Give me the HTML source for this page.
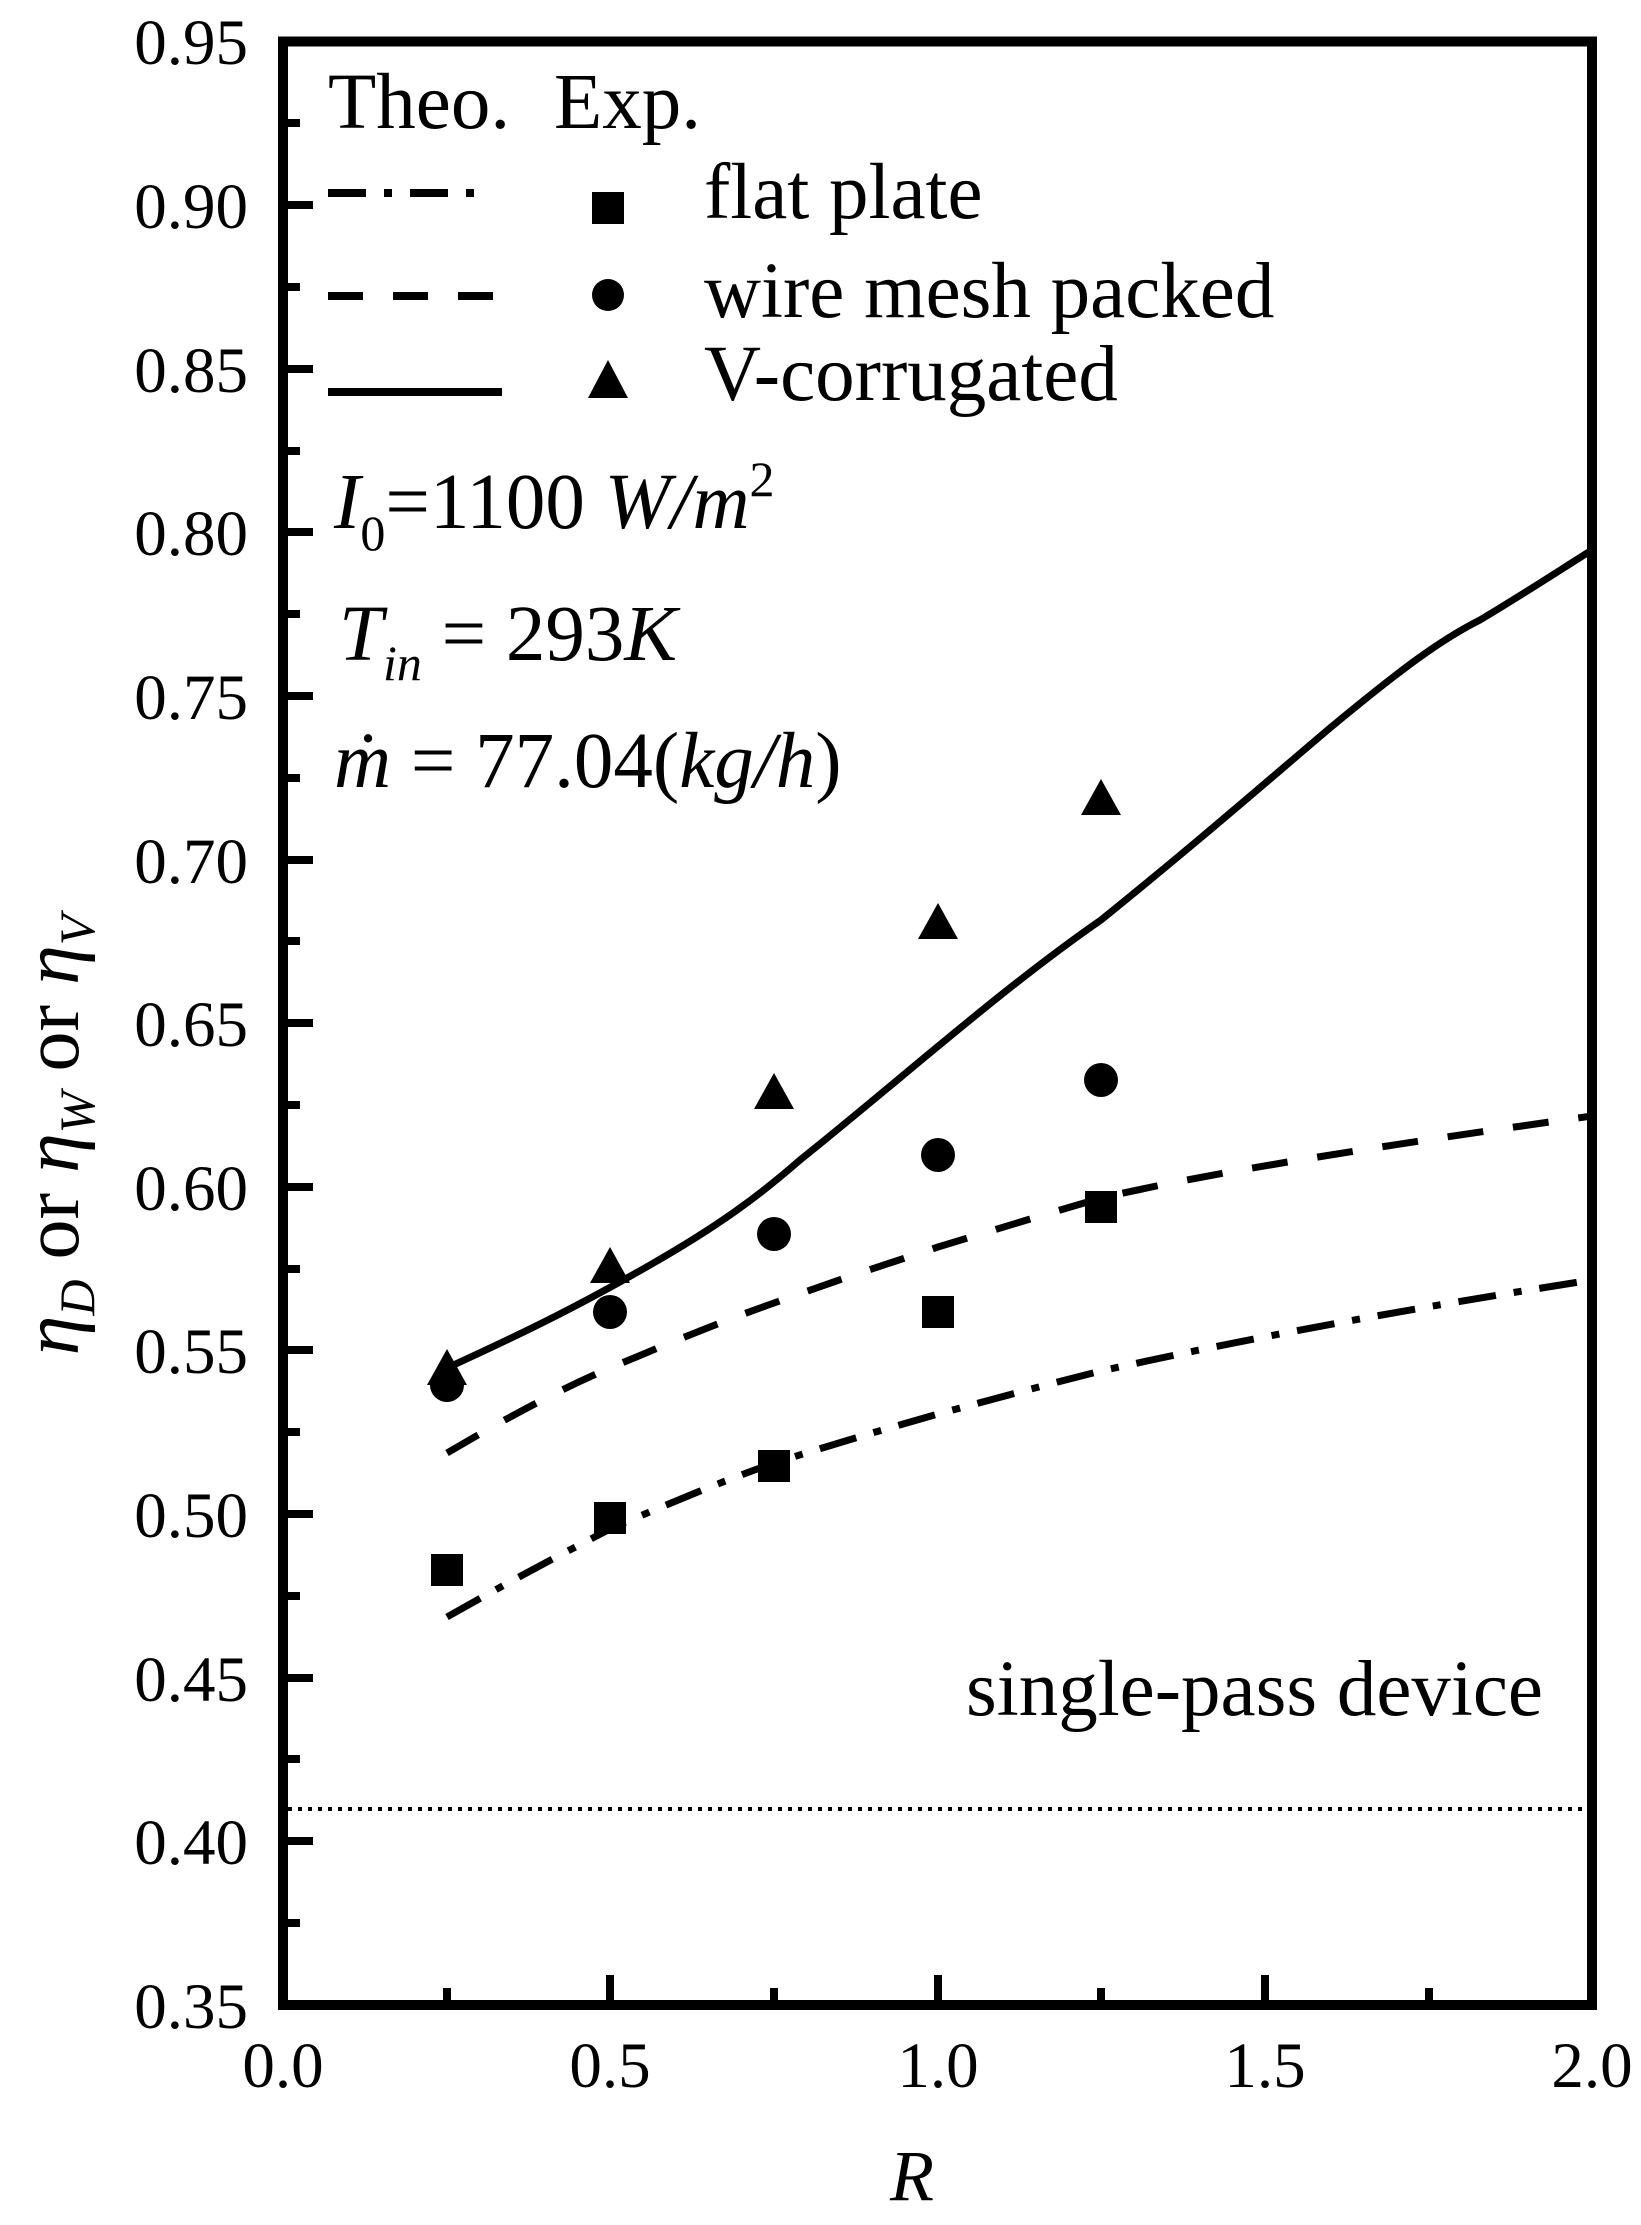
<!DOCTYPE html>
<html><head><meta charset="utf-8"><style>html,body{margin:0;padding:0;background:#fff}svg{display:block}</style></head>
<body>
<svg width="1641" height="2225" viewBox="0 0 1641 2225" xmlns="http://www.w3.org/2000/svg" font-family="Liberation Serif, serif">
<rect width="1641" height="2225" fill="#fff"/>
<g stroke="#000" stroke-width="8">
<line x1="283" y1="205" x2="313" y2="205"/>
<line x1="283" y1="369" x2="313" y2="369"/>
<line x1="283" y1="532" x2="313" y2="532"/>
<line x1="283" y1="696" x2="313" y2="696"/>
<line x1="283" y1="860" x2="313" y2="860"/>
<line x1="283" y1="1023" x2="313" y2="1023"/>
<line x1="283" y1="1187" x2="313" y2="1187"/>
<line x1="283" y1="1350" x2="313" y2="1350"/>
<line x1="283" y1="1514" x2="313" y2="1514"/>
<line x1="283" y1="1678" x2="313" y2="1678"/>
<line x1="283" y1="1841" x2="313" y2="1841"/>
<line x1="283" y1="123" x2="300" y2="123"/>
<line x1="283" y1="287" x2="300" y2="287"/>
<line x1="283" y1="451" x2="300" y2="451"/>
<line x1="283" y1="614" x2="300" y2="614"/>
<line x1="283" y1="778" x2="300" y2="778"/>
<line x1="283" y1="941" x2="300" y2="941"/>
<line x1="283" y1="1105" x2="300" y2="1105"/>
<line x1="283" y1="1269" x2="300" y2="1269"/>
<line x1="283" y1="1432" x2="300" y2="1432"/>
<line x1="283" y1="1596" x2="300" y2="1596"/>
<line x1="283" y1="1759" x2="300" y2="1759"/>
<line x1="283" y1="1923" x2="300" y2="1923"/>
<line x1="610" y1="2005" x2="610" y2="1975"/>
<line x1="938" y1="2005" x2="938" y2="1975"/>
<line x1="1265" y1="2005" x2="1265" y2="1975"/>
<line x1="447" y1="2005" x2="447" y2="1988"/>
<line x1="774" y1="2005" x2="774" y2="1988"/>
<line x1="1101" y1="2005" x2="1101" y2="1988"/>
<line x1="1429" y1="2005" x2="1429" y2="1988"/>
</g>
<rect x="283" y="41.5" width="1309" height="1963.5" fill="none" stroke="#000" stroke-width="10"/>
<g font-size="65" text-anchor="end">
<text x="248" y="64">0.95</text><text x="248" y="228">0.90</text><text x="248" y="392">0.85</text>
<text x="248" y="555">0.80</text><text x="248" y="719">0.75</text><text x="248" y="883">0.70</text>
<text x="248" y="1046">0.65</text><text x="248" y="1210">0.60</text><text x="248" y="1373">0.55</text>
<text x="248" y="1537">0.50</text><text x="248" y="1701">0.45</text><text x="248" y="1864">0.40</text>
<text x="248" y="2028">0.35</text>
</g>
<g font-size="65" text-anchor="middle">
<text x="283" y="2087">0.0</text><text x="610" y="2087">0.5</text><text x="938" y="2087">1.0</text>
<text x="1265" y="2087">1.5</text><text x="1592" y="2087">2.0</text>
</g>
<text x="912" y="2200" font-size="72" font-style="italic" text-anchor="middle">R</text>
<text transform="translate(78,1135) rotate(-90)" font-size="80" text-anchor="middle"><tspan font-style="italic">η</tspan><tspan font-size="50" font-style="italic" dy="16">D</tspan><tspan dy="-16"> or </tspan><tspan font-style="italic">η</tspan><tspan font-size="50" font-style="italic" dy="16">W</tspan><tspan dy="-16"> or </tspan><tspan font-style="italic">η</tspan><tspan font-size="50" font-style="italic" dy="16">V</tspan></text>
<g font-size="79">
<text x="328" y="128">Theo.</text><text x="554" y="128">Exp.</text>
<text x="704" y="218">flat plate</text>
<text x="704" y="317">wire mesh packed</text>
<text x="704" y="400">V-corrugated</text>
</g>
<g stroke="#000" stroke-width="8" fill="none">
<line x1="328" y1="193" x2="486" y2="193" stroke-dasharray="38 18 8 18"/>
<line x1="328" y1="296" x2="502" y2="296" stroke-dasharray="35 30"/>
<line x1="328" y1="392" x2="502" y2="392"/>
</g>
<rect x="592" y="192" width="32" height="32" fill="#000"/>
<circle cx="608" cy="295" r="16" fill="#000"/>
<polygon points="608,360 628,398 588,398" fill="#000"/>
<g font-size="79">
<text x="334" y="528"><tspan font-style="italic">I</tspan><tspan font-size="50" dy="22">0</tspan><tspan dy="-22">=1100 </tspan><tspan font-style="italic">W/m</tspan><tspan font-size="50" dy="-32">2</tspan></text>
<text x="339" y="660"><tspan font-style="italic">T</tspan><tspan font-size="50" font-style="italic" dy="20">in</tspan><tspan dy="-20"> = 293</tspan><tspan font-style="italic">K</tspan></text>
<text x="334" y="787"><tspan font-style="italic">ṁ</tspan> = 77.04(<tspan font-style="italic">kg/h</tspan>)</text>
<text x="966" y="1715">single-pass device</text>
</g>
<g stroke="#000" stroke-width="7" fill="none" stroke-linejoin="round">
<path d="M447,1368 C530,1330 580,1305 650,1265 C720,1225 760,1195 800,1160 C900,1080 1000,990 1101,920 C1200,840 1265,783 1330,728 C1400,670 1440,640 1480,620 C1530,590 1560,570 1592,550"/>
<path d="M447,1453 C520,1410 570,1385 610,1368 C700,1330 740,1315 774,1303 C860,1272 900,1260 938,1247 C1020,1222 1060,1210 1101,1198 C1200,1175 1350,1150 1592,1116" stroke-dasharray="36 30"/>
<path d="M447,1617 C530,1570 570,1550 610,1529 C700,1490 740,1475 774,1463 C860,1436 900,1425 938,1414 C1020,1392 1060,1381 1101,1371 C1250,1338 1400,1310 1592,1280" stroke-dasharray="38 18 8 18"/>
<line x1="288" y1="1809" x2="1588" y2="1809" stroke-width="4" stroke-dasharray="4 6"/>
</g>
<g fill="#000">
<rect x="431" y="1554" width="32" height="32"/><rect x="594" y="1502" width="32" height="32"/>
<rect x="758" y="1450" width="32" height="32"/><rect x="922" y="1296" width="32" height="32"/>
<rect x="1085" y="1191" width="32" height="32"/>
<circle cx="447" cy="1385" r="17"/><circle cx="610" cy="1312" r="17"/><circle cx="774" cy="1234" r="17"/>
<circle cx="938" cy="1155" r="17"/><circle cx="1101" cy="1080" r="17"/>
<polygon points="447,1349 467,1385 427,1385"/><polygon points="610,1247 630,1283 590,1283"/>
<polygon points="774,1073 794,1109 754,1109"/><polygon points="938,903 958,939 918,939"/>
<polygon points="1101,779 1121,815 1081,815"/>
</g>
</svg>
</body></html>
